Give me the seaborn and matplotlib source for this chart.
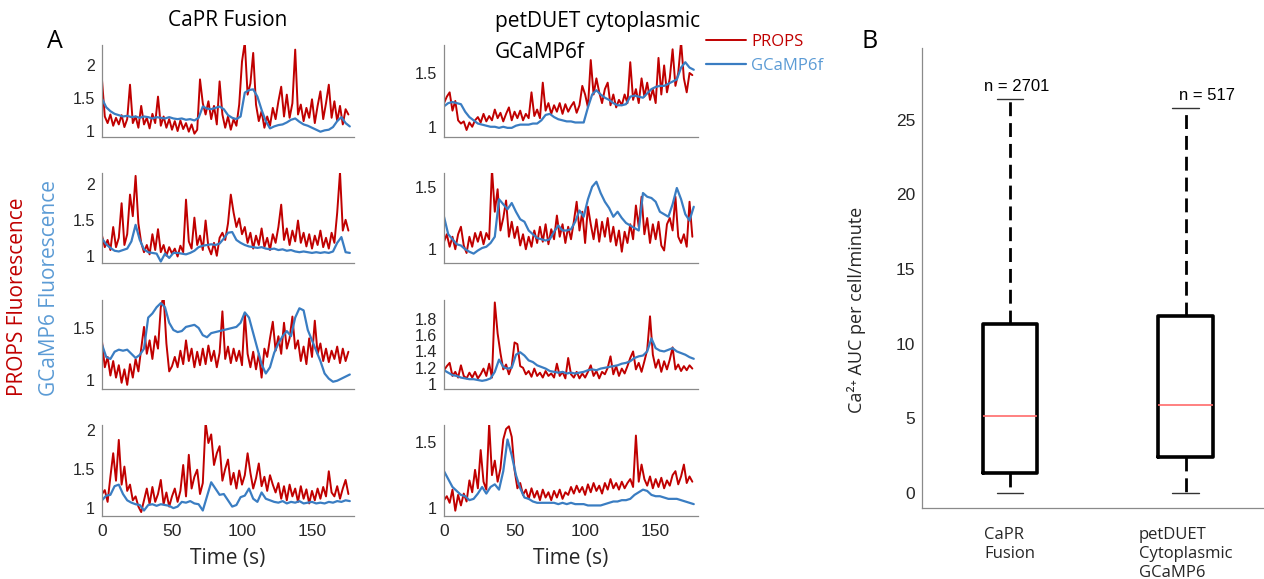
import numpy as np
import pandas as pd
import matplotlib
matplotlib.use("Agg")
import matplotlib.pyplot as plt
from matplotlib.ticker import FuncFormatter
import seaborn as sns

# ---------------------------------------------------------------- data
# PROPS traces are sampled every 2 s, GCaMP6f traces every 3 s (t = 0 ... ~177 s)
PROPS_DT = 2.0
GCAMP_DT = 3.0

capr_props_1 = [1.77, 1.22, 1.12, 1.25, 1.08, 1.20, 1.10, 1.24, 1.06, 1.18, 1.70, 1.12, 1.22, 1.05, 1.38,
                1.10, 1.20, 1.04, 1.26, 1.12, 1.52, 1.08, 1.22, 1.05, 1.18, 1.02, 1.15, 1.00, 1.16, 1.03,
                1.12, 0.99, 1.10, 0.96, 1.02, 1.78, 1.42, 1.25, 1.45, 1.18, 1.38, 1.10, 1.75, 1.25, 1.05,
                1.22, 1.02, 1.18, 1.08, 1.40, 2.05, 2.34, 1.55, 1.72, 2.18, 1.40, 1.15, 1.30, 1.05, 1.22,
                1.08, 1.35, 1.18, 1.45, 1.67, 1.22, 1.55, 1.20, 1.42, 2.23, 1.25, 1.40, 1.15, 1.35, 1.20,
                1.48, 1.12, 1.38, 1.60, 1.18, 1.42, 1.70, 1.20, 1.45, 1.15, 1.38, 1.10, 1.33, 1.25]
capr_gcamp_1 = [1.49, 1.36, 1.30, 1.26, 1.24, 1.22, 1.23, 1.21, 1.22, 1.20, 1.22, 1.21, 1.19, 1.21, 1.20,
                1.19, 1.21, 1.19, 1.18, 1.19, 1.17, 1.18, 1.16, 1.20, 1.37, 1.34, 1.33, 1.35, 1.37, 1.33,
                1.24, 1.20, 1.18, 1.22, 1.58, 1.62, 1.63, 1.52, 1.32, 1.15, 1.04, 1.07, 1.09, 1.10, 1.13,
                1.17, 1.19, 1.14, 1.10, 1.08, 1.05, 1.02, 0.99, 1.01, 1.02, 1.06, 1.15, 1.21, 1.12, 1.07]

capr_props_2 = [1.28, 1.12, 1.22, 1.08, 1.40, 1.12, 1.25, 1.73, 1.15, 1.30, 1.85, 1.55, 2.11, 1.45, 1.18,
                1.05, 1.15, 1.02, 1.30, 1.08, 1.37, 1.05, 1.15, 1.00, 1.12, 1.03, 1.10, 0.99, 1.14, 1.05,
                1.78, 1.20, 1.10, 1.53, 1.15, 1.28, 1.08, 1.49, 1.12, 1.02, 1.18, 1.00, 1.25, 1.32, 1.22,
                1.45, 1.85, 1.60, 1.40, 1.52, 1.30, 1.40, 1.18, 1.32, 1.10, 1.28, 1.15, 1.38, 1.12, 1.25,
                1.08, 1.30, 1.18, 1.40, 1.71, 1.22, 1.38, 1.15, 1.35, 1.20, 1.49, 1.18, 1.32, 1.13, 1.30,
                1.10, 1.28, 1.15, 1.35, 1.12, 1.25, 1.10, 1.32, 1.18, 1.60, 2.16, 1.35, 1.50, 1.35]
capr_gcamp_2 = [1.24, 1.16, 1.11, 1.07, 1.06, 1.08, 1.10, 1.20, 1.43, 1.22, 1.09, 1.05, 1.04, 1.03, 0.92,
                1.03, 0.97, 1.04, 1.04, 1.03, 1.02, 1.04, 1.07, 1.12, 1.14, 1.15, 1.16, 1.15, 1.17, 1.24,
                1.32, 1.33, 1.22, 1.18, 1.15, 1.13, 1.12, 1.11, 1.12, 1.10, 1.09, 1.10, 1.08, 1.09, 1.07,
                1.08, 1.06, 1.05, 1.06, 1.05, 1.04, 1.05, 1.04, 1.05, 1.04, 1.06, 1.18, 1.26, 1.05, 1.04]

capr_props_3 = [1.37, 1.12, 1.22, 1.04, 1.18, 1.02, 1.14, 0.97, 1.10, 0.95, 1.15, 1.02, 1.20, 1.08, 1.30,
                1.51, 1.25, 1.38, 1.20, 1.42, 1.30, 1.70, 1.81, 1.35, 1.08, 1.13, 1.22, 1.12, 1.28, 1.15,
                1.38, 1.18, 1.30, 1.12, 1.27, 1.14, 1.30, 1.15, 1.33, 1.18, 1.28, 1.12, 1.26, 1.66, 1.20,
                1.32, 1.16, 1.30, 1.18, 1.28, 1.14, 1.64, 1.25, 1.12, 1.27, 1.10, 1.25, 1.02, 1.30, 1.22,
                1.40, 1.56, 1.28, 1.42, 1.25, 1.55, 1.30, 1.40, 1.61, 1.30, 1.38, 1.18, 1.32, 1.15, 1.40,
                1.22, 1.57, 1.25, 1.35, 1.18, 1.30, 1.17, 1.28, 1.20, 1.32, 1.16, 1.30, 1.18, 1.27]
capr_gcamp_3 = [1.34, 1.22, 1.20, 1.27, 1.29, 1.28, 1.29, 1.25, 1.21, 1.24, 1.30, 1.60, 1.64, 1.70, 1.74,
                1.70, 1.55, 1.48, 1.46, 1.47, 1.51, 1.52, 1.53, 1.50, 1.43, 1.41, 1.45, 1.46, 1.47, 1.48,
                1.49, 1.50, 1.51, 1.55, 1.65, 1.60, 1.45, 1.30, 1.15, 1.06, 1.12, 1.26, 1.35, 1.42, 1.47,
                1.42, 1.60, 1.69, 1.67, 1.48, 1.38, 1.28, 1.18, 1.06, 1.01, 0.98, 0.99, 1.01, 1.03, 1.05]

capr_props_4 = [1.18, 1.23, 1.08, 1.40, 1.70, 1.35, 1.87, 1.30, 1.53, 1.22, 1.30, 1.10, 1.15, 1.02, 0.95,
                1.10, 1.25, 1.05, 1.27, 1.08, 1.18, 1.36, 1.05, 1.20, 1.02, 1.15, 1.25, 1.08, 1.22, 1.55,
                1.15, 1.68, 1.25, 1.40, 1.49, 1.18, 1.32, 2.09, 1.83, 1.94, 1.55, 1.70, 1.79, 1.35, 1.50,
                1.62, 1.30, 1.45, 1.25, 1.48, 1.30, 1.42, 1.70, 1.45, 1.25, 1.38, 1.57, 1.28, 1.40, 1.22,
                1.42, 1.30, 1.20, 1.32, 1.12, 1.28, 1.10, 1.30, 1.15, 1.25, 1.08, 1.28, 1.12, 1.24, 1.06,
                1.22, 1.10, 1.25, 1.12, 1.27, 1.15, 1.47, 1.20, 1.15, 1.28, 1.12, 1.25, 1.36, 1.18]
capr_gcamp_4 = [1.10, 1.16, 1.17, 1.28, 1.30, 1.18, 1.10, 1.07, 1.05, 1.04, 0.97, 1.04, 1.05, 1.03, 1.05,
                1.04, 1.03, 1.00, 1.02, 1.08, 1.07, 1.09, 1.06, 1.05, 0.97, 1.15, 1.33, 1.25, 1.17, 1.18,
                1.10, 1.02, 1.04, 1.14, 1.16, 1.25, 1.12, 1.08, 1.20, 1.12, 1.10, 1.08, 1.07, 1.09, 1.06,
                1.08, 1.07, 1.09, 1.06, 1.07, 1.08, 1.06, 1.07, 1.06, 1.08, 1.07, 1.09, 1.08, 1.10, 1.09]

duet_props_1 = [1.22, 1.28, 1.32, 1.15, 1.24, 1.06, 1.03, 1.05, 0.97, 1.04, 1.00, 1.06, 1.09, 1.04, 1.12,
                1.05, 1.10, 1.06, 1.16, 1.08, 1.13, 1.05, 1.12, 1.18, 1.06, 1.14, 1.08, 1.15, 1.06, 1.12,
                1.08, 1.32, 1.10, 1.16, 1.08, 1.41, 1.15, 1.22, 1.12, 1.20, 1.14, 1.22, 1.12, 1.21, 1.14,
                1.19, 1.23, 1.13, 1.20, 1.38, 1.30, 1.18, 1.62, 1.30, 1.45, 1.32, 1.22, 1.35, 1.41, 1.20,
                1.30, 1.18, 1.25, 1.20, 1.30, 1.22, 1.60, 1.25, 1.35, 1.22, 1.45, 1.28, 1.41, 1.25, 1.35,
                1.22, 1.64, 1.30, 1.57, 1.32, 1.45, 1.72, 1.38, 1.50, 1.79, 1.45, 1.32, 1.50, 1.48]
duet_gcamp_1 = [1.19, 1.22, 1.23, 1.22, 1.21, 1.14, 1.09, 1.06, 1.03, 1.02, 1.01, 1.00, 1.00, 0.99, 1.00,
                0.99, 0.99, 1.01, 1.02, 1.02, 1.02, 1.03, 1.03, 1.06, 1.11, 1.12, 1.09, 1.07, 1.06, 1.05,
                1.05, 1.04, 1.04, 1.04, 1.18, 1.30, 1.34, 1.30, 1.27, 1.25, 1.22, 1.20, 1.20, 1.21, 1.28,
                1.29, 1.28, 1.27, 1.31, 1.35, 1.37, 1.38, 1.38, 1.40, 1.42, 1.44, 1.55, 1.60, 1.55, 1.53]

duet_props_2 = [1.06, 1.12, 1.02, 1.10, 1.00, 1.12, 1.18, 1.03, 0.97, 1.10, 1.02, 1.13, 1.06, 1.14, 1.04,
                1.13, 1.08, 1.64, 1.30, 1.48, 1.15, 1.25, 1.39, 1.10, 1.22, 1.09, 1.18, 1.03, 1.12, 1.00,
                1.10, 1.02, 1.15, 1.05, 1.18, 1.06, 1.20, 1.04, 1.16, 1.08, 1.27, 1.10, 1.20, 1.05, 1.18,
                1.08, 1.22, 1.38, 1.15, 1.30, 1.05, 1.34, 1.20, 1.08, 1.24, 1.06, 1.22, 1.10, 1.25, 1.06,
                1.18, 1.03, 1.15, 0.98, 1.14, 1.05, 1.20, 1.08, 1.35, 1.18, 1.42, 1.12, 1.25, 1.05, 1.20,
                1.08, 1.22, 1.03, 0.99, 1.20, 1.25, 1.15, 1.42, 1.10, 1.05, 1.12, 1.02, 1.38, 1.10]
duet_gcamp_2 = [1.26, 1.12, 1.08, 1.04, 1.03, 1.00, 0.98, 0.965, 0.99, 1.01, 1.02, 1.05, 1.10, 1.40, 1.36,
                1.32, 1.37, 1.30, 1.24, 1.22, 1.15, 1.12, 1.09, 1.08, 1.07, 1.08, 1.14, 1.19, 1.15, 1.15,
                1.16, 1.22, 1.31, 1.26, 1.40, 1.50, 1.54, 1.45, 1.38, 1.33, 1.26, 1.30, 1.25, 1.21, 1.19,
                1.17, 1.15, 1.45, 1.42, 1.41, 1.38, 1.30, 1.28, 1.26, 1.36, 1.49, 1.40, 1.28, 1.23, 1.34]

duet_props_3 = [1.17, 1.22, 1.26, 1.10, 1.15, 1.08, 1.23, 1.10, 1.07, 1.14, 1.08, 1.15, 1.07, 1.12, 1.19,
                1.10, 1.25, 1.08, 2.00, 1.62, 1.38, 1.18, 1.24, 1.12, 1.22, 1.51, 1.49, 1.22, 1.20, 1.12,
                1.16, 1.09, 1.19, 1.10, 1.14, 1.08, 1.16, 1.10, 1.13, 1.08, 1.25, 1.10, 1.15, 1.07, 1.32,
                1.12, 1.08, 1.15, 1.07, 1.13, 1.08, 1.15, 1.23, 1.10, 1.16, 1.07, 1.15, 1.12, 1.20, 1.34,
                1.12, 1.22, 1.10, 1.19, 1.13, 1.22, 1.32, 1.40, 1.18, 1.26, 1.15, 1.28, 1.42, 1.83, 1.36,
                1.20, 1.30, 1.15, 1.28, 1.18, 1.30, 1.45, 1.18, 1.24, 1.16, 1.22, 1.17, 1.23, 1.19]
duet_gcamp_3 = [1.17, 1.14, 1.11, 1.10, 1.08, 1.07, 1.06, 1.06, 1.05, 1.04, 1.05, 1.07, 1.15, 1.30, 1.21,
                1.19, 1.20, 1.36, 1.39, 1.35, 1.29, 1.27, 1.23, 1.21, 1.19, 1.16, 1.15, 1.14, 1.15, 1.13,
                1.14, 1.13, 1.14, 1.15, 1.17, 1.18, 1.17, 1.19, 1.20, 1.21, 1.22, 1.23, 1.25, 1.26, 1.28,
                1.32, 1.34, 1.35, 1.40, 1.56, 1.44, 1.41, 1.40, 1.42, 1.44, 1.40, 1.38, 1.36, 1.33, 1.31]

duet_props_4 = [1.06, 1.09, 1.04, 1.14, 0.98, 1.10, 1.02, 1.11, 1.05, 1.21, 1.12, 1.29, 1.15, 1.44, 1.20,
                1.14, 1.64, 1.25, 1.36, 1.20, 1.30, 1.52, 1.60, 1.62, 1.54, 1.29, 1.15, 1.19, 1.10, 1.14,
                1.07, 1.15, 1.08, 1.13, 1.06, 1.14, 1.08, 1.12, 1.06, 1.13, 1.08, 1.14, 1.07, 1.12, 1.10,
                1.16, 1.11, 1.17, 1.12, 1.16, 1.10, 1.18, 1.12, 1.19, 1.13, 1.17, 1.11, 1.19, 1.14, 1.22,
                1.15, 1.19, 1.14, 1.20, 1.15, 1.19, 1.22, 1.16, 1.55, 1.20, 1.33, 1.22, 1.17, 1.24, 1.15,
                1.22, 1.16, 1.23, 1.15, 1.21, 1.17, 1.25, 1.28, 1.18, 1.24, 1.33, 1.19, 1.24, 1.20]
duet_gcamp_4 = [1.28, 1.22, 1.16, 1.13, 1.10, 1.09, 1.06, 1.07, 1.11, 1.16, 1.11, 1.16, 1.18, 1.14, 1.28,
                1.52, 1.40, 1.25, 1.15, 1.08, 1.07, 1.05, 1.04, 1.04, 1.04, 1.04, 1.04, 1.03, 1.04, 1.03,
                1.04, 1.03, 1.03, 1.03, 1.02, 1.02, 1.02, 1.02, 1.03, 1.04, 1.05, 1.05, 1.06, 1.06, 1.07,
                1.10, 1.12, 1.14, 1.13, 1.10, 1.09, 1.09, 1.08, 1.07, 1.07, 1.07, 1.06, 1.05, 1.04, 1.03]

capr_ylims = [(0.91, 2.30), (0.90, 2.15), (0.91, 1.77), (0.90, 2.06)]
duet_ylims = [(0.905, 1.76), (0.89, 1.61), (0.94, 2.03), (0.94, 1.63)]
capr_yticks = [[1, 1.5, 2], [1, 1.5, 2], [1, 1.5], [1, 1.5, 2]]
duet_yticks = [[1, 1.5], [1, 1.5], [1, 1.2, 1.4, 1.6, 1.8], [1, 1.5]]
time_ticks = [0, 50, 100, 150]

# AUC box summaries (Ca2+ AUC per cell per minute)
box_labels = ["CaPR\nFusion", "petDUET\nCytoplasmic\nGCaMP6"]
box_counts = [2701, 517]
box_whislo = [0.0, 0.0]
box_q1 = [1.34, 2.44]
box_median = [5.15, 5.90]
box_q3 = [11.34, 11.83]
box_whishi = [26.4, 25.8]

# ---------------------------------------------------------------- style
sns.set_style("white")
plt.rcParams['font.family'] = ['Liberation Sans', 'DejaVu Sans']
LABEL_FONT = ['Open Sans', 'DejaVu Sans']

RED = "#c00000"
BLUE = "#3a7dc2"
LIGHT_BLUE = "#5b9bd5"
AXIS_GRAY = "#8a8a8a"
TEXT_DARK = "#262626"

W, H = 1264, 579
fig = plt.figure(figsize=(W / 100, H / 100), dpi=100)
fig.patch.set_facecolor("white")


def frame(left, top, right, bottom):
    return [left / W, 1 - bottom / H, (right - left) / W, (bottom - top) / H]


row_tops = [45, 173, 300, 425]
row_bottoms = [137, 263, 389, 516]
col_lr = [(102, 354), (444, 698)]

fmt = FuncFormatter(lambda v, p: f"{v:g}")

props_sets = [[capr_props_1, capr_props_2, capr_props_3, capr_props_4],
              [duet_props_1, duet_props_2, duet_props_3, duet_props_4]]
gcamp_sets = [[capr_gcamp_1, capr_gcamp_2, capr_gcamp_3, capr_gcamp_4],
              [duet_gcamp_1, duet_gcamp_2, duet_gcamp_3, duet_gcamp_4]]
ylims = [capr_ylims, duet_ylims]
yticks = [capr_yticks, duet_yticks]

trace_axes = {}
for c in range(2):
    for r in range(4):
        ax = fig.add_axes(frame(col_lr[c][0], row_tops[r], col_lr[c][1], row_bottoms[r]))
        props = np.asarray(props_sets[c][r])
        gcamp = np.asarray(gcamp_sets[c][r])
        df_p = pd.DataFrame({"t": np.arange(len(props)) * PROPS_DT, "F": props})
        df_g = pd.DataFrame({"t": np.arange(len(gcamp)) * GCAMP_DT, "F": gcamp})
        sns.lineplot(data=df_p, x="t", y="F", ax=ax, color=RED, lw=1.4, label="PROPS")
        sns.lineplot(data=df_g, x="t", y="F", ax=ax, color=BLUE, lw=1.6, label="GCaMP6f")
        ax.get_legend().remove()
        ax.set_xlim(0, 180)
        ax.set_ylim(*ylims[c][r])
        ax.set_xticks(time_ticks)
        ax.set_yticks(yticks[c][r])
        ax.yaxis.set_major_formatter(fmt)
        ax.set_xlabel("")
        ax.set_ylabel("")
        sns.despine(ax=ax)
        for s in ("left", "bottom"):
            ax.spines[s].set_color(AXIS_GRAY)
            ax.spines[s].set_linewidth(0.9)
        ax.tick_params(direction="in", length=4, width=0.8, color=AXIS_GRAY,
                       labelcolor=TEXT_DARK)
        ax.tick_params(axis="y", labelsize=11.5, pad=5)
        ax.tick_params(axis="x", labelsize=12.5, pad=6)
        if r < 3:
            ax.tick_params(axis="x", labelbottom=False)
        else:
            ax.set_xlabel("Time (s)", fontsize=15, family=LABEL_FONT, color=TEXT_DARK)
            ax.xaxis.set_label_coords(0.5, -0.35)
        ax.patch.set_alpha(0)
        trace_axes[(c, r)] = ax

# legend for the trace panels
h, l = trace_axes[(1, 0)].get_legend_handles_labels()
fig.legend(h, l, loc="upper left", bbox_to_anchor=(706 / W, 1 - 34 / H),
           frameon=False, prop={"family": LABEL_FONT, "size": 12},
           labelcolor=[RED, LIGHT_BLUE], handlelength=2.4, handletextpad=0.3,
           labelspacing=0.45, borderpad=0, borderaxespad=0)

# column titles and panel letters
fig.text(228 / W, 1 - 21 / H, "CaPR Fusion", ha="center", va="center",
         fontsize=15, family=LABEL_FONT, color="black")
fig.text(495 / W, 1 - 21 / H, "petDUET cytoplasmic", ha="left", va="center",
         fontsize=15, family=LABEL_FONT, color="black")
fig.text(495 / W, 1 - 52 / H, "GCaMP6f", ha="left", va="center",
         fontsize=15, family=LABEL_FONT, color="black")
fig.text(55 / W, 1 - 42 / H, "A", ha="center", va="center", fontsize=18,
         family=LABEL_FONT, color="black")
fig.text(870 / W, 1 - 42 / H, "B", ha="center", va="center", fontsize=18,
         family=LABEL_FONT, color="black")

# two-colour shared y label
fig.text(18 / W, 1 - 396 / H, "PROPS Fluorescence", rotation=90, ha="center",
         va="bottom", fontsize=15, family=LABEL_FONT, color=RED)
fig.text(50 / W, 1 - 396 / H, "GCaMP6 Fluorescence", rotation=90, ha="center",
         va="bottom", fontsize=15, family=LABEL_FONT, color=LIGHT_BLUE)

# ---------------------------------------------------------------- box plot
bax = fig.add_axes(frame(922, 48, 1263, 508))
stats = []
for i in range(2):
    stats.append(dict(label=box_labels[i], whislo=box_whislo[i], q1=box_q1[i],
                      med=box_median[i], q3=box_q3[i], whishi=box_whishi[i], fliers=[]))
bax.bxp(stats, positions=[1, 2], widths=0.31, capwidths=0.15, showfliers=False,
        boxprops=dict(color="black", lw=2.6),
        whiskerprops=dict(color="black", lw=2.0, linestyle=(0, (5, 2.5))),
        capprops=dict(color="#333333", lw=1.0),
        medianprops=dict(color="#ff6b6b", lw=1.2))
bax.set_xlim(0.5, 2.44)
bax.set_ylim(-1, 29.8)
bax.set_yticks([0, 5, 10, 15, 20, 25])
bax.set_xticks([1, 2])
bax.set_xticklabels(box_labels, fontsize=12, family=LABEL_FONT, color=TEXT_DARK,
                    multialignment="left", linespacing=1.25)
sns.despine(ax=bax)
for s in ("left", "bottom"):
    bax.spines[s].set_color(AXIS_GRAY)
    bax.spines[s].set_linewidth(0.9)
bax.tick_params(direction="in", length=4, width=0.8, color=AXIS_GRAY, labelcolor=TEXT_DARK)
bax.tick_params(axis="y", labelsize=12.5, pad=5)
bax.tick_params(axis="x", pad=14)
bax.set_ylabel("Ca²⁺ AUC per cell/minute", fontsize=13, family=LABEL_FONT, color=TEXT_DARK)
bax.yaxis.set_label_coords(-0.164, 0.43)
bax.patch.set_alpha(0)

for i, n in enumerate(box_counts):
    bax.text(1 + i + 0.04 + 0.08 * i, box_whishi[i] + 0.35, f"n = {n}", ha="center", va="bottom",
             fontsize=12, color="black")

fig.savefig("out.png", dpi=100, facecolor="white")
